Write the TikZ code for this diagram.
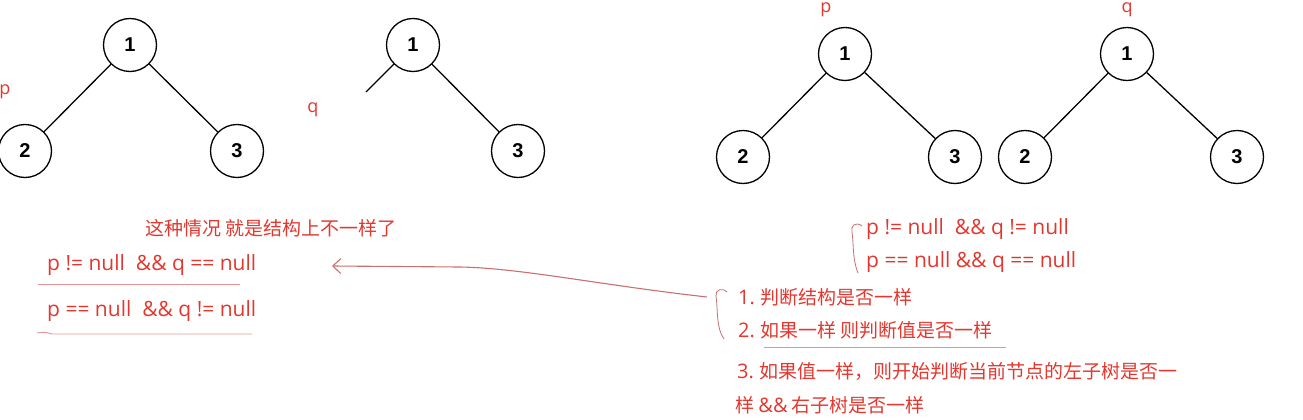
\documentclass[tikz,border=0pt]{standalone}
\usepackage{fontspec}
\setmainfont{Liberation Sans}
\newfontfamily\cjk{Noto Sans CJK SC}
\newfontfamily\latin{Open Sans}
\usetikzlibrary{arrows.meta}
\definecolor{note}{HTML}{E2372E}
\definecolor{pen}{HTML}{E39595}
\definecolor{ink}{HTML}{C97070}

\begin{document}
\begin{tikzpicture}[
  x=1pt,y=-1pt,
  vertex/.style={draw,circle,line width=1.3pt,minimum size=53pt,inner sep=0pt,font=\fontsize{20}{20}\selectfont\bfseries},
  link/.style={line width=1.3pt},
  remark/.style={text=note,font=\cjk\fontsize{19}{22}\selectfont,anchor=west,inner sep=0pt},
  code/.style={remark,font=\latin\fontsize{21}{24}\selectfont},
  tag/.style={text=note,font=\latin\fontsize{18}{18}\selectfont,inner sep=0pt},
  uline/.style={draw=pen,line width=0.9pt},
  brace/.style={draw=ink,line width=0.8pt},
  arrow/.style={-{Straight Barb[length=8pt,width=15pt]},draw=ink,line width=1.1pt}
]
\useasboundingbox (0,0) rectangle (1303,420);

% tree p (left)
\node[vertex] (a1) at (130,45) {1};
\node[vertex] (a2) at (25,151) {2};
\node[vertex] (a3) at (237,151) {3};
\draw[link] (a1) -- (a2);
\draw[link] (a1) -- (a3);
\node[tag] (pa) at (5,92) {p};
\node[tag] (qa) at (313,110) {q};

% tree q (left, no left child)
\node[vertex] (b1) at (413,45) {1};
\node[vertex] (b3) at (518,151) {3};
\coordinate (bcut) at (366,92);
\draw[link] (b1) -- (bcut);
\draw[link] (b1) -- (b3);

% trees p and q (right)
\node[vertex] (c1) at (845,54) {1};
\node[vertex] (c2) at (743,157) {2};
\node[vertex] (c3) at (955,157) {3};
\draw[link] (c1) -- (c2);
\draw[link] (c1) -- (c3);
\node[tag] (pc) at (826,10) {p};

\node[vertex] (d1) at (1127,54) {1};
\node[vertex] (d2) at (1025,157) {2};
\node[vertex] (d3) at (1237,157) {3};
\draw[link] (d1) -- (d2);
\draw[link] (d1) -- (d3);
\node[tag] (qd) at (1127,10) {q};

% left notes
\node[remark] (case) at (145,228) {这种情况 就是结构上不一样了};
\node[code] (pq1) at (47,265) {p != null~~\&\& q == null};
\node[code] (pq2) at (47,311) {p == null~~\&\& q != null};
\coordinate (u1a) at (38,284);
\coordinate (u1b) at (240,284);
\draw[uline] (u1a) -- (u1b);
\coordinate (u2a) at (37,333);
\coordinate (u2b) at (252,334);
\draw[uline] (u2a) .. controls (45,332) .. (52,334) -- (u2b);

% right notes
\node[code] (same1) at (866,229) {p != null~~\&\& q != null};
\node[code] (same2) at (866,262) {p == null \&\& q == null};
\coordinate (br1a) at (862,226);
\coordinate (br1b) at (858,273);
\draw[brace] (br1a) .. controls (856,221) and (850,226) .. (852,232)
  .. controls (854,245) and (852,258) .. (br1b);

\node[remark] (step1) at (738,297) {{\latin\fontsize{20}{22}\selectfont 1.} 判断结构是否一样};
\node[remark] (step2) at (738,330) {{\latin\fontsize{20}{22}\selectfont 2.} 如果一样 则判断值是否一样};
\coordinate (u3a) at (764,347);
\coordinate (u3b) at (1006,347);
\draw[uline] (u3a) -- (u3b);
\coordinate (br2a) at (727,292);
\coordinate (br2b) at (724,339);
\draw[brace] (br2a) .. controls (722,287) and (715,290) .. (716,296)
  .. controls (718,310) and (716,328) .. (br2b);

\node[remark] (step3a) at (737,371) {{\latin\fontsize{20}{22}\selectfont 3.} 如果值一样，则开始判断当前节点的左子树是否一};
\node[remark] (step3b) at (735,405) {样 {\latin\fontsize{20}{22}\selectfont\&\&} 右子树是否一样};

% arrow back to the structure cases
\coordinate (from) at (707,297);
\coordinate (to) at (332,266);
\draw[arrow] (from) .. controls (600,285) and (520,268) .. (460,267) -- (to);
\end{tikzpicture}
\end{document}
